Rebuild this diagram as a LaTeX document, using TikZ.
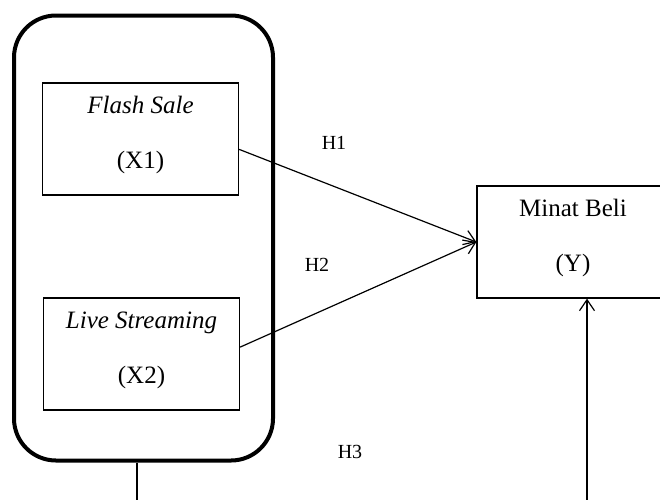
\documentclass[tikz,border=0pt]{standalone}
\usepackage{fontspec}
\setmainfont{Liberation Serif}
\usetikzlibrary{arrows.meta,positioning}

\newcommand{\boxpad}{\rule[-13pt]{0pt}{0pt}}

\begin{document}
\begin{tikzpicture}[
  x=1pt,y=-1pt,
  varbox/.style={draw,line width=1.3pt,minimum width=196pt,minimum height=112pt,
                 align=center,inner sep=0pt,font=\fontsize{25}{30}\selectfont},
  groupbox/.style={draw,line width=4pt,rounded corners=42pt,
                   minimum width=259pt,minimum height=445pt},
  hlabel/.style={font=\fontsize{20}{24}\selectfont},
  arrow/.style={-{Straight Barb[length=11pt,width=15pt]},line width=1.2pt}
]
\clip (0,0) rectangle (660,499);
\node[groupbox] (grp) at (143.5,238) {};
\node[varbox] (fs) at (140.5,139) {\textit{Flash Sale}\\[25pt](X1)\boxpad};
\node[varbox] (ls) at (141.5,354) {\textit{Live Streaming}\\[25pt](X2)\boxpad};
\node[varbox,minimum width=192pt] (minat) at (573,242) {Minat Beli\\[25pt](Y)\boxpad};
\node[hlabel] (h1) at (334,143) {H1};
\node[hlabel] (h2) at (317,265) {H2};
\node[hlabel] (h3) at (350,452) {H3};
\draw[arrow] (fs.-6) -- (minat.west);
\draw[arrow] (ls.4) -- (minat.west);
\draw[arrow] ([xshift=-6.5pt]grp.south) -- ++(0,70) -| ([xshift=14pt]minat.south);
\end{tikzpicture}
\end{document}
